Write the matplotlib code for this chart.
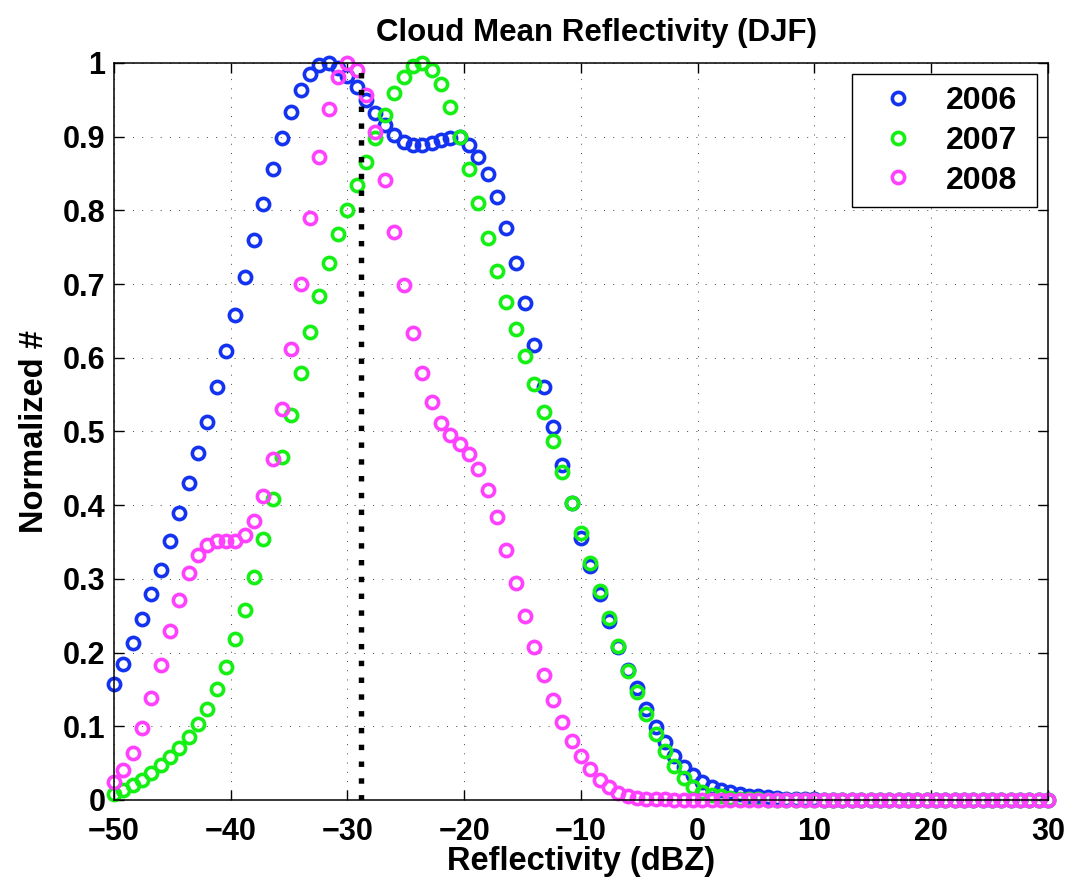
import numpy as np
import matplotlib
matplotlib.use('Agg')
import matplotlib.pyplot as plt

# 反射率分箱 (dBZ)，每 0.8 dBZ 一个点
refl_bins = np.linspace(-50, 30, 101)

norm_2006 = [
    0.157, 0.185, 0.213, 0.245, 0.279, 0.312, 0.351, 0.390, 0.430, 0.471,
    0.513, 0.561, 0.609, 0.658, 0.709, 0.760, 0.809, 0.856, 0.898, 0.934,
    0.963, 0.985, 0.997, 1.000, 0.993, 0.983, 0.968, 0.950, 0.932, 0.916,
    0.902, 0.893, 0.889, 0.889, 0.891, 0.895, 0.898, 0.899, 0.889, 0.873,
    0.849, 0.818, 0.776, 0.728, 0.674, 0.618, 0.561, 0.506, 0.454, 0.403,
    0.356, 0.318, 0.279, 0.243, 0.208, 0.176, 0.152, 0.124, 0.099, 0.078,
    0.060, 0.045, 0.034, 0.025, 0.018, 0.014, 0.011, 0.008, 0.006, 0.005,
    0.004, 0.003, 0.002, 0.002, 0.001, 0.001, 0.000, 0.000, 0.000, 0.000,
    0.000, 0.000, 0.000, 0.000, 0.000, 0.000, 0.000, 0.000, 0.000, 0.000,
    0.000, 0.000, 0.000, 0.000, 0.000, 0.000, 0.000, 0.000, 0.000, 0.000,
    0.000,
]

norm_2007 = [
    0.008, 0.013, 0.020, 0.027, 0.036, 0.047, 0.058, 0.070, 0.086, 0.103,
    0.124, 0.150, 0.181, 0.218, 0.258, 0.303, 0.354, 0.408, 0.466, 0.522,
    0.580, 0.635, 0.684, 0.729, 0.768, 0.801, 0.834, 0.866, 0.898, 0.930,
    0.959, 0.981, 0.996, 1.000, 0.991, 0.971, 0.940, 0.900, 0.856, 0.810,
    0.762, 0.718, 0.676, 0.639, 0.602, 0.565, 0.527, 0.487, 0.445, 0.403,
    0.362, 0.321, 0.283, 0.247, 0.209, 0.175, 0.146, 0.117, 0.090, 0.066,
    0.046, 0.030, 0.018, 0.011, 0.007, 0.005, 0.003, 0.002, 0.001, 0.001,
    0.000, 0.000, 0.000, 0.000, 0.000, 0.000, 0.000, 0.000, 0.000, 0.000,
    0.000, 0.000, 0.000, 0.000, 0.000, 0.000, 0.000, 0.000, 0.000, 0.000,
    0.000, 0.000, 0.000, 0.000, 0.000, 0.000, 0.000, 0.000, 0.000, 0.000,
    0.000,
]

norm_2008 = [
    0.024, 0.041, 0.064, 0.097, 0.138, 0.183, 0.229, 0.271, 0.308, 0.332,
    0.346, 0.352, 0.352, 0.352, 0.360, 0.379, 0.412, 0.463, 0.530, 0.612,
    0.700, 0.789, 0.872, 0.937, 0.981, 1.000, 0.990, 0.957, 0.907, 0.841,
    0.770, 0.699, 0.634, 0.580, 0.540, 0.512, 0.495, 0.483, 0.469, 0.449,
    0.421, 0.384, 0.339, 0.294, 0.249, 0.207, 0.169, 0.136, 0.106, 0.080,
    0.059, 0.042, 0.027, 0.017, 0.009, 0.005, 0.003, 0.002, 0.001, 0.001,
    0.000, 0.000, 0.000, 0.000, 0.000, 0.000, 0.000, 0.000, 0.000, 0.000,
    0.000, 0.000, 0.000, 0.000, 0.000, 0.000, 0.000, 0.000, 0.000, 0.000,
    0.000, 0.000, 0.000, 0.000, 0.000, 0.000, 0.000, 0.000, 0.000, 0.000,
    0.000, 0.000, 0.000, 0.000, 0.000, 0.000, 0.000, 0.000, 0.000, 0.000,
    0.000,
]

years = ['2006', '2007', '2008']
year_colors = ['#1433f0', '#14f014', '#ff40ff']

# 三年平均反射率
mean_refl = -28.8

x_ticks = [-50, -40, -30, -20, -10, 0, 10, 20, 30]
y_ticks = [0, 0.1, 0.2, 0.3, 0.4, 0.5, 0.6, 0.7, 0.8, 0.9, 1.0]
y_tick_labels = ['0', '0.1', '0.2', '0.3', '0.4', '0.5',
                 '0.6', '0.7', '0.8', '0.9', '1']


def plot_reflectivity():
    """绘制各年云平均反射率归一化分布"""
    plt.rcParams['font.family'] = ['Liberation Sans', 'DejaVu Sans']
    plt.rcParams['font.weight'] = 'bold'

    fig = plt.figure(figsize=(10.72, 8.82), dpi=100)
    ax = fig.add_axes([0.1063, 0.0930, 0.8713, 0.8356])

    series = [norm_2006, norm_2007, norm_2008]
    for year, color, vals in zip(years, year_colors, series):
        ax.plot(refl_bins, vals, linestyle='none', marker='o', mfc='none',
                mec=color, ms=8.8, mew=2.6, label=year, clip_on=False)

    # 平均值竖线
    ax.plot([mean_refl, mean_refl], [0, 1], color='k', lw=3.9,
            dashes=(1, 2.1), dash_capstyle='butt', zorder=5)

    ax.set_xlim(-50, 30)
    ax.set_ylim(0, 1)
    ax.set_xticks(x_ticks)
    ax.set_yticks(y_ticks)
    ax.set_yticklabels(y_tick_labels)

    ax.grid(True, color='#444444', linewidth=0.7, dashes=(1, 8.5))
    ax.set_axisbelow(True)
    for sp in ax.spines.values():
        sp.set_linewidth(1.1)

    ax.tick_params(direction='in', length=7, width=1, top=True, right=True,
                   labelsize=22)
    ax.tick_params(axis='x', pad=12)
    ax.tick_params(axis='y', pad=6)

    ax.set_title('Cloud Mean Reflectivity (DJF)', fontsize=22.5,
                 fontweight='bold', pad=15.5, x=0.517)
    ax.set_xlabel('Reflectivity (dBZ)', fontsize=23.5, fontweight='bold')
    ax.set_ylabel('Normalized #', fontsize=23.5, fontweight='bold')
    ax.xaxis.set_label_coords(0.5, -0.062)
    ax.yaxis.set_label_coords(-0.0685, 0.5)

    leg = ax.legend(loc='upper left', bbox_to_anchor=(0.790, 0.5, 0.198, 0.485),
                    mode='expand', fontsize=23, frameon=True, fancybox=False,
                    edgecolor='k', framealpha=1, borderpad=0.37,
                    labelspacing=0.31, handlelength=2.16, handletextpad=0.42,
                    borderaxespad=0, numpoints=1)
    leg.get_frame().set_linewidth(1.0)

    fig.savefig('out.png', dpi=100)


if __name__ == "__main__":
    plot_reflectivity()
